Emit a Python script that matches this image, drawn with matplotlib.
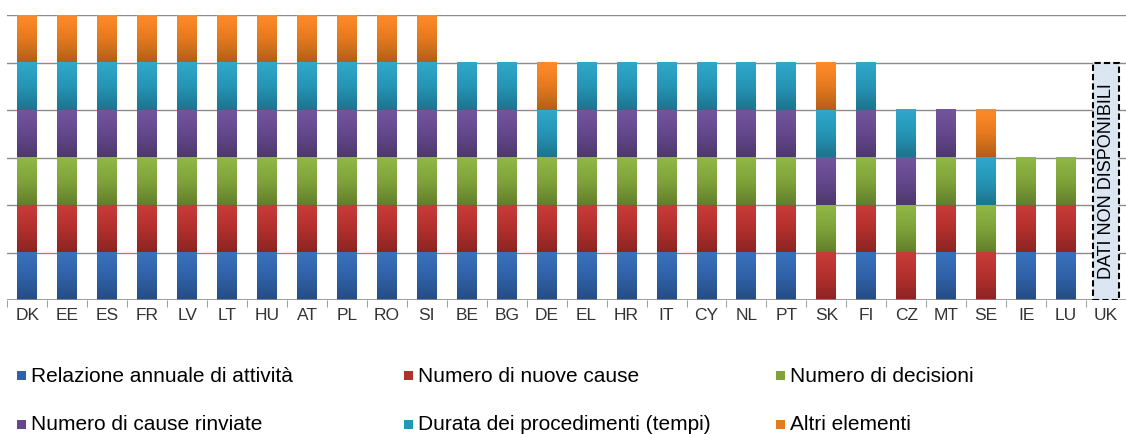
import numpy as np
import matplotlib.pyplot as plt
from matplotlib.patches import Rectangle
from matplotlib.colors import LinearSegmentedColormap, to_rgb

countries = ["DK", "EE", "ES", "FR", "LV", "LT", "HU", "AT", "PL", "RO", "SI",
             "BE", "BG", "DE", "EL", "HR", "IT", "CY", "NL", "PT", "SK", "FI",
             "CZ", "MT", "SE", "IE", "LU", "UK"]

# 1 = element present in the report, 0 = absent
relazione = [1] * 11 + [1, 1, 1, 1, 1, 1, 1, 1, 1, 0, 1, 0, 1, 0, 1, 1, 0]
nuove_cause = [1] * 11 + [1, 1, 1, 1, 1, 1, 1, 1, 1, 1, 1, 1, 1, 1, 1, 1, 0]
decisioni = [1] * 11 + [1, 1, 1, 1, 1, 1, 1, 1, 1, 1, 1, 1, 1, 1, 1, 1, 0]
rinviate = [1] * 11 + [1, 1, 0, 1, 1, 1, 1, 1, 1, 1, 1, 1, 1, 0, 0, 0, 0]
durata = [1] * 11 + [1, 1, 1, 1, 1, 1, 1, 1, 1, 1, 1, 1, 0, 1, 0, 0, 0]
altri = [1] * 11 + [0, 0, 1, 0, 0, 0, 0, 0, 0, 1, 0, 0, 0, 1, 0, 0, 0]

series = [
    ("Relazione annuale di attività", relazione, "#2f62a8"),
    ("Numero di nuove cause", nuove_cause, "#b3302d"),
    ("Numero di decisioni", decisioni, "#7fa33a"),
    ("Numero di cause rinviate", rinviate, "#64488c"),
    ("Durata dei procedimenti (tempi)", durata, "#2595b5"),
    ("Altri elementi", altri, "#e67a1f"),
]

plt.rcParams['font.family'] = ['Liberation Sans', 'DejaVu Sans']

W, H = 1126, 434
fig = plt.figure(figsize=(W / 100, H / 100), dpi=100)
ax = fig.add_axes([7 / W, 134 / H, 1 - 7 / W, 285 / H])

grad = np.linspace(0, 1, 64).reshape(-1, 1)

x = list(range(len(countries)))
bottom = [0] * len(countries)
for name, vals, color in series:
    bars = ax.bar(x, vals, width=0.5, bottom=bottom, color=color, zorder=3)
    base = np.array(to_rgb(color))
    cmap = LinearSegmentedColormap.from_list(
        name, [base * 0.78, base, np.clip(base * 1.08 + 0.03, 0, 1)])
    # vertical shading on every segment, like the original
    for p in bars:
        if p.get_height() > 0:
            x0, y0 = p.get_x(), p.get_y()
            ax.imshow(grad, cmap=cmap, aspect="auto", origin="lower", zorder=3.5,
                      extent=[x0, x0 + p.get_width(), y0, y0 + p.get_height()])
    bottom = [b + v for b, v in zip(bottom, vals)]

ax.set_xlim(-0.51, 27.32)
ax.set_ylim(0, 6)
for y in range(1, 7):
    ax.axhline(y, color="#8c8c8c", lw=1, zorder=1)
ax.axhline(0, color="#8c8c8c", lw=1.2, zorder=4)

for s in ax.spines.values():
    s.set_visible(False)
ax.set_yticks([])
ax.set_xticks(x)
ax.set_xticklabels(countries, fontsize=12.5, color="#333333")
ax.tick_params(axis="x", length=0, pad=6)
ax.set_xticks([i + 0.5 for i in range(-1, len(countries))], minor=True)
ax.tick_params(axis="x", which="minor", length=5, color="#8c8c8c")

# UK: no data box
ax.add_patch(Rectangle((27 - 0.33, 0), 0.66, 5, facecolor="#dce6f2",
                       edgecolor="black", ls=(0, (3, 1.5)), lw=1.5, zorder=5))
ax.text(27.02, 2.5, "DATI NON DISPONIBILI", rotation=90, ha="center", va="center",
        fontsize=13, zorder=6)

# legend
leg_pos = [(22, 376), (409, 376), (781, 376), (22, 425), (409, 425), (781, 425)]
for (name, vals, color), (px, py) in zip(series, leg_pos):
    fig.patches.append(Rectangle(((px - 5) / W, 1 - (py + 4) / H), 9 / W, 9 / H,
                                 facecolor=color, transform=fig.transFigure, figure=fig))
    fig.text((px + 9) / W, 1 - py / H, name, fontsize=15, va="center", ha="left")

fig.savefig("out.png", dpi=100)
